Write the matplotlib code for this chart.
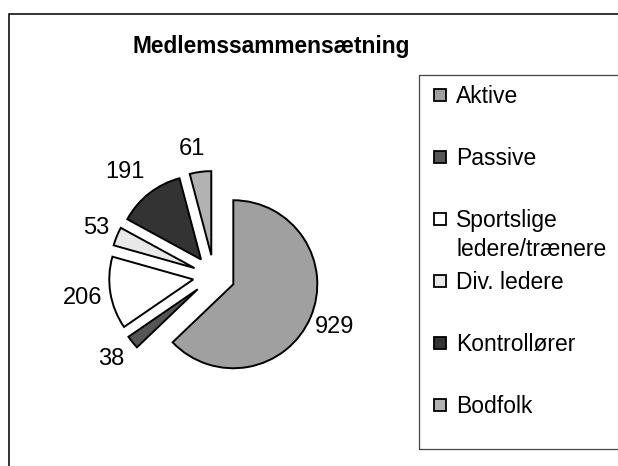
import math
import matplotlib
matplotlib.use("Agg")
import matplotlib.pyplot as plt
from matplotlib.patches import Rectangle

plt.rcParams['font.family'] = ['Liberation Sans', 'DejaVu Sans']

title = "Medlemssammensætning"
categories = ["Aktive", "Passive", "Sportslige\nledere/trænere", "Div. ledere",
              "Kontrollører", "Bodfolk"]
values = [929, 38, 206, 53, 191, 61]
colors = ["#a0a0a0", "#555555", "#ffffff", "#e8e8e8", "#333333", "#b2b2b2"]
label_dist = [1.31, 1.32, 1.33, 1.26, 1.38, 1.28]
label_rot = [0, 0, 0, 0, 3, 3]  # small angular nudges (degrees) for label placement

W, H = 618, 466
fig = plt.figure(figsize=(W / 100, H / 100), dpi=100)

def fx(px):
    return px / W

def fy(py):
    return 1 - py / H

# outer chart frame (cut off at right and bottom)
fig.add_artist(Rectangle((fx(8.5), fy(700)), fx(800), 700 / H - 14 / H,
                         transform=fig.transFigure, fill=False,
                         edgecolor="#111111", linewidth=1.2))

# title
fig.text(fx(271), fy(47), title, ha="center", va="center",
         fontsize=16.4, fontweight="bold")

# pie axes: center (214, 276) px, radius 84 px
cx, cy, R, half = 214, 276, 84, 200
ax = fig.add_axes([fx(cx - half), fy(cy + half), fx(2 * half), 2 * half / H])
ax.axis("off")

total = sum(values)
wedges, texts, autotexts = ax.pie(
    values, colors=colors, startangle=90, counterclock=False,
    explode=[0.25] * len(values), radius=1,
    autopct=lambda p: f"{round(p * total / 100)}", pctdistance=1.31,
    wedgeprops=dict(edgecolor="black", linewidth=1.4),
    textprops=dict(fontsize=17, color="black"))
for w, t, d, r in zip(wedges, autotexts, label_dist, label_rot):
    mid = math.radians((w.theta1 + w.theta2) / 2 + r)
    t.set_position((w.center[0] + d * math.cos(mid),
                    w.center[1] + d * math.sin(mid)))
ax.set_xlim(-half / R, half / R)
ax.set_ylim(-half / R, half / R)

# legend box
fig.add_artist(Rectangle((fx(418.5), fy(449)), fx(400), (449 - 75) / H,
                         transform=fig.transFigure, fill=False,
                         edgecolor="#444444", linewidth=0.9))

top, step = 95, 62
for i, (lab, col) in enumerate(zip(categories, colors)):
    yc = top + i * step
    fig.add_artist(Rectangle((fx(434), fy(yc + 6)), fx(12), 12 / H,
                             transform=fig.transFigure, facecolor=col,
                             edgecolor="black", linewidth=1.3))
    fig.text(fx(456), fy(yc - 10), lab, ha="left", va="top", fontsize=16.5,
             linespacing=1.35)

fig.savefig("out.png", dpi=100)
